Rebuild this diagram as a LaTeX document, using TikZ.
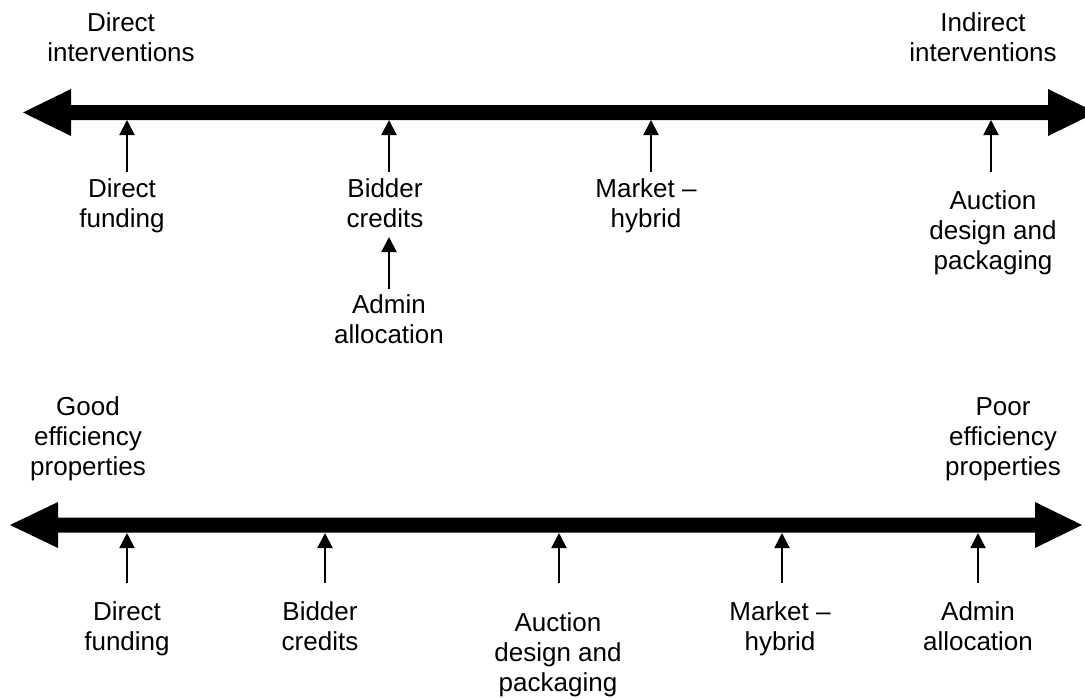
\documentclass[tikz,border=0pt]{standalone}
\usepackage{fontspec}
\setmainfont{Liberation Sans}
\usetikzlibrary{arrows.meta}
\begin{document}
\begin{tikzpicture}[x=1pt,y=-1pt,
  lbl/.style={font=\fontsize{26}{30}\selectfont, align=center, anchor=north, inner sep=0pt},
  ptr/.style={line width=2pt, -{Triangle[length=15pt,width=15pt]}},
  axis/.style={fill=black}]
\useasboundingbox (0,0) rectangle (1085,697);
\clip (0,0) rectangle (1085,697);
% top axis
\fill[axis] (23,112.5) -- (71,89) -- (71,105) -- (1048,105) -- (1048,89) -- (1096,112.5)
  -- (1048,136) -- (1048,120) -- (71,120) -- (71,136) -- cycle;
% bottom axis
\fill[axis] (10,525) -- (58,502) -- (58,517.5) -- (1035,517.5) -- (1035,502) -- (1082,525)
  -- (1035,548) -- (1035,532.5) -- (58,532.5) -- (58,548) -- cycle;

% top labels
\node[lbl] (dint) at (121,10) {\strut Direct\\interventions};
\node[lbl] (iint) at (983,10) {\strut Indirect\\interventions};
\node[lbl] (tdf) at (122,176) {\strut Direct\\funding};
\node[lbl] (tbc) at (385,176) {\strut Bidder\\credits};
\node[lbl] (tad) at (389,292) {\strut Admin\\allocation};
\node[lbl] (tmh) at (646,176) {\strut Market –\\hybrid};
\node[lbl] (tau) at (993,188) {\strut Auction\\design and\\packaging};

% top arrow coordinates
\foreach \n/\x in {a/127,b/389,c/651,d/991}{
  \coordinate (ts\n) at (\x,172);
  \coordinate (te\n) at (\x,120);
}
\coordinate (tsx) at (389,289);
\coordinate (tex) at (389,237);
\foreach \n in {a,b,c,d,x}{\draw[ptr] (ts\n) -- (te\n);}

% bottom labels
\node[lbl] (gep) at (88,394) {\strut Good\\efficiency\\properties};
\node[lbl] (pep) at (1003,394) {\strut Poor\\efficiency\\properties};
\node[lbl] (bdf) at (127,599) {\strut Direct\\funding};
\node[lbl] (bbc) at (320,599) {\strut Bidder\\credits};
\node[lbl] (bau) at (558,610) {\strut Auction\\design and\\packaging};
\node[lbl] (bmh) at (780,599) {\strut Market –\\hybrid};
\node[lbl] (bad) at (978,599) {\strut Admin\\allocation};

\foreach \n/\x in {a/127,b/325,c/559,d/782,e/978}{
  \coordinate (bs\n) at (\x,583);
  \coordinate (be\n) at (\x,533);
  \draw[ptr] (bs\n) -- (be\n);
}
\end{tikzpicture}
\end{document}
